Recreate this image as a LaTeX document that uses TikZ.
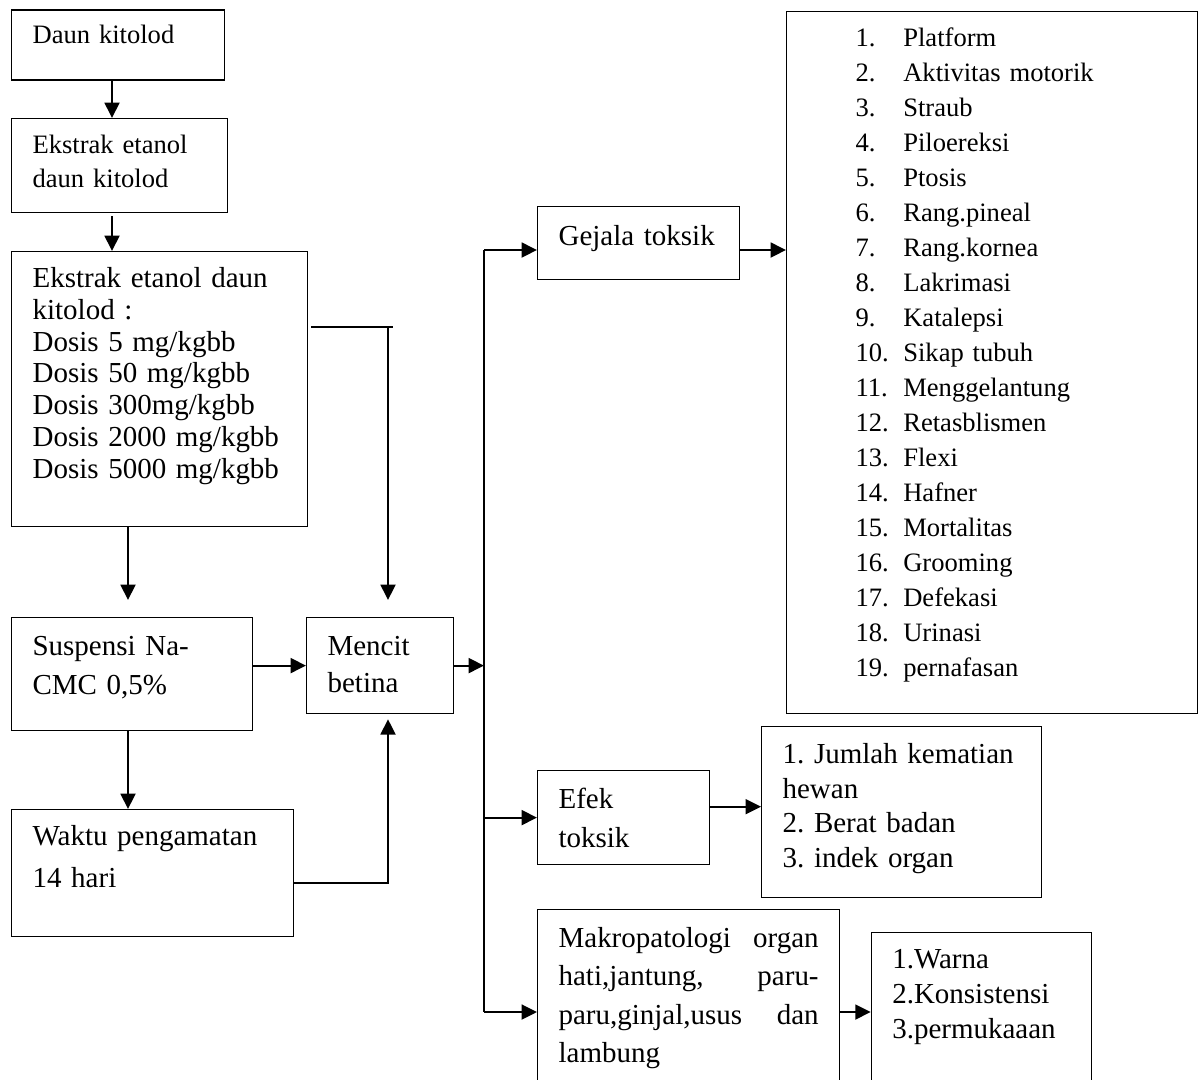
\documentclass[tikz,border=0pt]{standalone}
\usepackage{fontspec}
\setmainfont{Liberation Serif}
\usetikzlibrary{arrows.meta,calc}
\frenchspacing
\newdimen\px \px=0.414pt
\newcommand{\butir}[2]{\makebox[47.7\px][l]{#1}#2}
\tikzset{
  kotak/.style={draw, line width=0.5pt, anchor=north west, inner xsep=21\px, inner ysep=0pt, align=left},
  garis/.style={line width=0.8pt},
  panah/.style={garis, -{Triangle[length=6.4pt,width=6.2pt]}}
}
\begin{document}
\begin{tikzpicture}[x=\px,y=-\px]
    \path[use as bounding box, fill=white] (0,0) rectangle (1203,1079);

    \node[kotak, text width=171\px, text height=34\px, text depth=36\px, font=\fontsize{11}{13}\selectfont] (daun) at (11,9.3) {Daun kitolod};
    \node[kotak, text width=174\px, text height=35\px, text depth=59\px, font=\fontsize{11}{14.2}\selectfont] (ekstrak) at (11,118) {Ekstrak etanol\\daun kitolod};
    \node[kotak, text width=254\px, text height=35.7\px, text depth=239.3\px, font=\fontsize{12}{13.2}\selectfont] (dosis) at (11,251) {Ekstrak etanol daun\\kitolod :\\Dosis 5 mg/kgbb\\Dosis 50 mg/kgbb\\Dosis 300mg/kgbb\\Dosis 2000 mg/kgbb\\Dosis 5000 mg/kgbb};
    \node[kotak, text width=199\px, text height=38.3\px, text depth=74.7\px, font=\fontsize{12}{15.9}\selectfont] (suspensi) at (11,617) {Suspensi Na-\\CMC 0,5\%};
    \node[kotak, text width=105\px, text height=38\px, text depth=58\px, font=\fontsize{12}{15.4}\selectfont] (mencit) at (306,617) {Mencit\\betina};
    \node[kotak, text width=240\px, text height=36\px, text depth=91\px, font=\fontsize{12}{17.5}\selectfont] (waktu) at (11,809) {Waktu pengamatan\\14 hari};

    \node[kotak, text width=160\px, text height=38.6\px, text depth=34.4\px, font=\fontsize{12}{14}\selectfont] (gejala) at (537,206) {Gejala toksik};
    \node[kotak, inner xsep=69\px, text width=273\px, text height=34.7\px, text depth=667.3\px, font=\fontsize{11}{14.5}\selectfont] (daftar) at (786,11)
        {\butir{1.}{Platform}\\\butir{2.}{Aktivitas motorik}\\\butir{3.}{Straub}\\\butir{4.}{Piloereksi}\\\butir{5.}{Ptosis}\\
         \butir{6.}{Rang.pineal}\\\butir{7.}{Rang.kornea}\\\butir{8.}{Lakrimasi}\\\butir{9.}{Katalepsi}\\\butir{10.}{Sikap tubuh}\\
         \butir{11.}{Menggelantung}\\\butir{12.}{Retasblismen}\\\butir{13.}{Flexi}\\\butir{14.}{Hafner}\\\butir{15.}{Mortalitas}\\
         \butir{16.}{Grooming}\\\butir{17.}{Defekasi}\\\butir{18.}{Urinasi}\\\butir{19.}{pernafasan}};
    \node[kotak, text width=130\px, text height=38\px, text depth=56\px, font=\fontsize{12}{16}\selectfont] (efek) at (537,770) {Efek\\toksik};
    \node[kotak, text width=238\px, text height=37\px, text depth=134\px, font=\fontsize{12}{14.3}\selectfont] (hasil) at (761,726) {1. Jumlah kematian\\hewan\\2. Berat badan\\3. indek organ};
    \node[kotak, align=justify, text width=260\px, text height=37.7\px, text depth=143\px, font=\fontsize{12}{15.9}\selectfont] (makro) at (537,909) {Makropatologi organ\linebreak hati,jantung, paru-\linebreak paru,ginjal,usus dan\linebreak lambung};
    \node[kotak, text width=178\px, text height=36.3\px, text depth=124\px, font=\fontsize{12}{14.5}\selectfont] (organ) at (870.7,931.7) {1.Warna\\2.Konsistensi\\3.permukaaan};

    \coordinate (xa) at (112,0);
    \coordinate (xb) at (128,0);
    \coordinate (kb) at (388,327);
    \coordinate (kw) at (388,883);
    \coordinate (bus1) at (484,250);
    \coordinate (bus2) at (484,1012);
    \coordinate (ye) at (0,806.7);

    \draw[panah] (daun.south -| xa) -- (ekstrak.north -| xa);
    \draw[panah, shorten <=3\px] (ekstrak.south -| xa) -- (dosis.north -| xa);
    \draw[panah, shorten >=17\px] (dosis.south -| xb) -- (suspensi.north -| xb);
    \draw[garis, shorten <=3\px] (dosis.east |- kb) -- ([xshift=5\px]kb);
    \draw[panah, shorten >=17\px] (kb) -- (mencit.north -| kb);
    \draw[panah] (suspensi.east |- mencit.west) -- (mencit.west);
    \draw[panah] (suspensi.south -| xb) -- (waktu.north -| xb);
    \draw[panah, shorten >=5\px] (waktu.east |- kw) -| (mencit.south -| kw);
    \draw[panah] (mencit.east) -- (mencit.east -| bus1);

    \draw[garis] (bus1) -- (bus2);
    \draw[panah] (bus1) -- (gejala.west |- bus1);
    \draw[panah] (gejala.east |- bus1) -- (daftar.west |- bus1);
    \draw[panah] (efek.west -| bus1) -- (efek.west);
    \draw[panah] (efek.east |- ye) -- (hasil.west |- ye);
    \draw[panah] (bus2) -- (makro.west |- bus2);
    \draw[panah] (makro.east |- bus2) -- (organ.west |- bus2);
\end{tikzpicture}
\end{document}
